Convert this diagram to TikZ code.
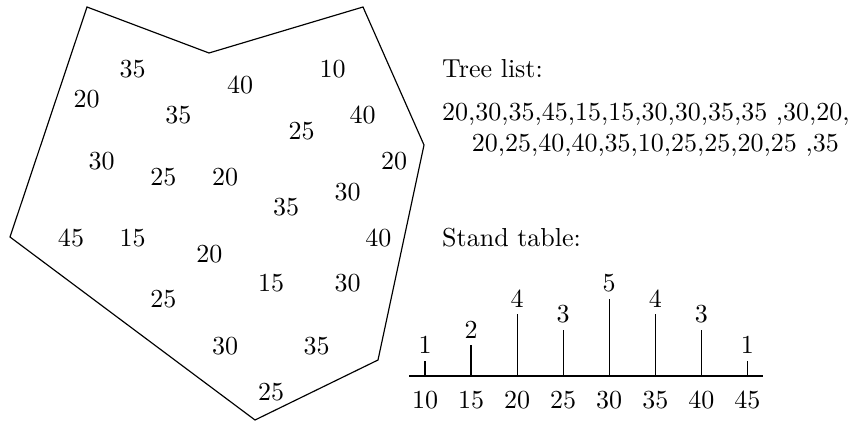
\documentclass[tikz,border=0pt]{standalone}
\begin{document}
\begin{tikzpicture}[x=0.3846pt,y=-0.3846pt,
  num/.style={inner sep=0pt},
  txt/.style={inner sep=0pt,anchor=base west},
  bar/.style={line width=0.45pt},
  axis/.style={line width=0.45pt}]
\useasboundingbox (0,0) rectangle (858,421);
% plot boundary
\draw[line width=0.45pt,line join=miter]
  (87,7) -- (209,53) -- (363,7) -- (424,145) -- (378,360) -- (255,420) -- (10,237) -- cycle;
% trees
\foreach \x/\y/\t [count=\i] in {
  132.7/69/35, 86.7/99.3/20, 240/85/40, 332.7/69/10,
  178.3/115/35, 301.7/131/25, 362.7/115/40, 394/161/20,
  101.7/161/30, 163.3/176.7/25, 225/176.7/20, 347.7/191.7/30,
  286/207.3/35, 71/238.3/45, 132.7/238.3/15, 209.3/254/20,
  378.3/238.3/40, 271/283.3/15, 347.7/283.3/30, 163.3/299.3/25,
  225/346/30, 316.7/346/35, 271/391.7/25}
  \node[num] (tree\i) at (\x,\y) {\t};
% tree list
\node[txt] (tl) at (441.7,77.7) {Tree list:};
\node[txt] (tl1) at (441.7,121) {20,30,35,45,15,15,30,30,35,35 ,30,20,};
\node[txt] (tl2) at (471.3,151) {20,25,40,40,35,10,25,25,20,25 ,35};
% stand table
\node[txt] (st) at (441.7,246.7) {Stand table:};
\coordinate (axL) at (409,376);
\coordinate (axR) at (763,376);
\draw[axis] (axL) -- (axR);
\foreach \v/\h [count=\i] in {10/1,15/2,20/4,25/3,30/5,35/4,40/3,45/1}{
  \coordinate (b\i) at ({425+46.05*(\i-1)},376);
  \coordinate (t\i) at ({425+46.05*(\i-1)},{376-15.4*\h});
  \draw[bar] (b\i) -- (t\i);
  \node[num,anchor=south] (h\i) at ([yshift=2.4pt]t\i) {\h};
  \node[num] (x\i) at ({425+46.05*(\i-1)},400) {\v};
}
\end{tikzpicture}
\end{document}
